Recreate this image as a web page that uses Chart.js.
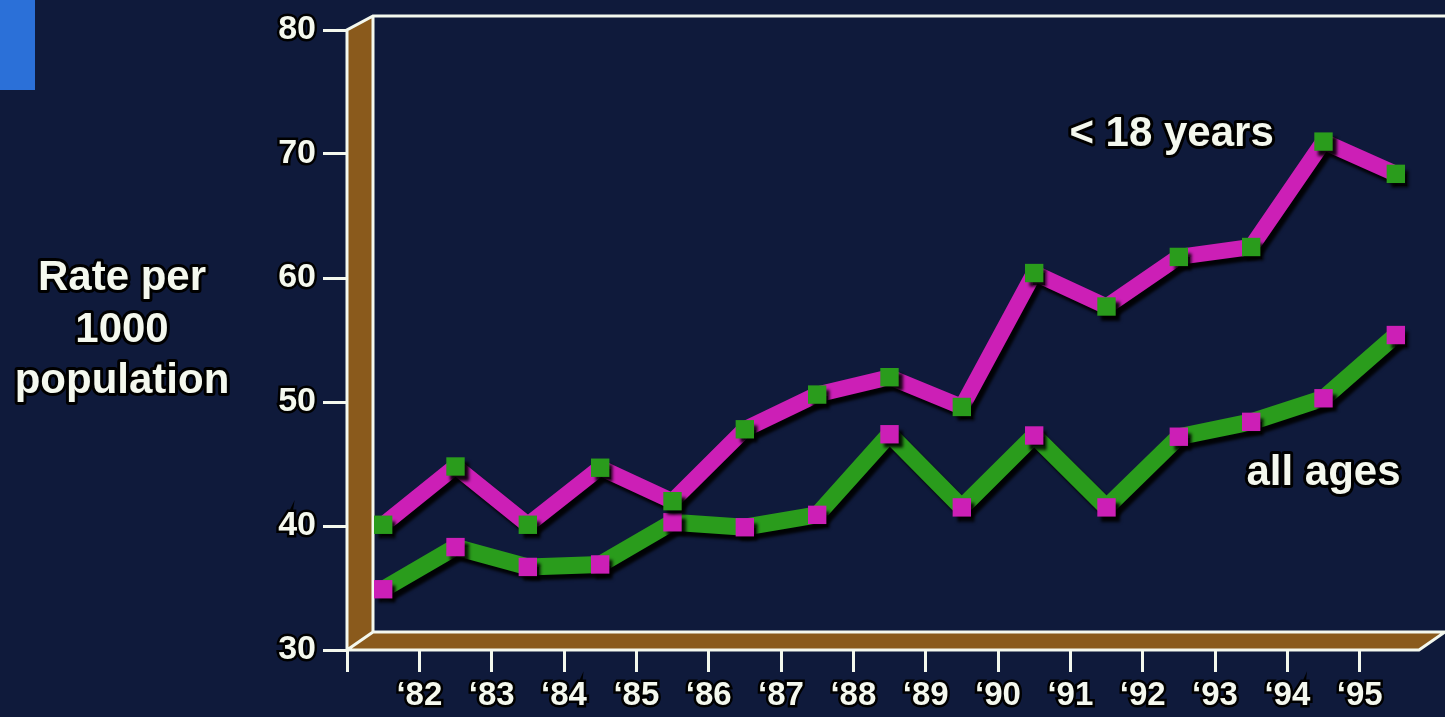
<!DOCTYPE html>
<html>
<head>
<meta charset="utf-8">
<script src="https://cdn.jsdelivr.net/npm/chart.js@4.4.1/dist/chart.umd.min.js"></script>
<style>
  body { margin: 0; background: #0f1a3b; }
  #wrap { position: relative; width: 1445px; height: 717px; }
  #tag { position: absolute; left: 0; top: 0; width: 35px; height: 90px; background: #2b70d8; }
  canvas { position: absolute; left: 0; top: 0; }
</style>
</head>
<body>
<div id="wrap">
  <div id="tag"></div>
  <canvas id="rate-chart"></canvas>
</div>
<script>
// one point per year, ticks mark the year boundaries
const years = ["1981", "1982", "1983", "1984", "1985", "1986", "1987", "1988",
  "1989", "1990", "1991", "1992", "1993", "1994", "1995"]
const tickLabels = ["\u201882", "\u201883", "\u201884", "\u201885", "\u201886", "\u201887", "\u201888",
  "\u201889", "\u201890", "\u201891", "\u201892", "\u201893", "\u201894", "\u201895"]

const under18 = [40.1, 44.8, 40.1, 44.7, 42.0, 47.8, 50.6, 52.0, 49.6, 60.4, 57.7, 61.7, 62.5, 71.0, 68.4]
const allAges = [34.9, 38.3, 36.7, 36.9, 40.3, 39.9, 40.9, 47.4, 41.5, 47.3, 41.5, 47.2, 48.4, 50.3, 55.4]

const yMin = 30
const yMax = 80
const yStep = 10

const magenta = "#cc1fb6"
const green = "#2a9c1c"
const brown = "#8a5a1c"
const white = "#f4f8ee"
const font = '"Liberation Sans", Arial, sans-serif'

function outlinedText(ctx, text, x, y) {
    ctx.lineJoin = "round"
    ctx.lineWidth = 6
    ctx.strokeStyle = "#000"
    ctx.strokeText(text, x, y)
    ctx.fillStyle = white
    ctx.fillText(text, x, y)
}

// 3d-ish wall and floor behind the lines
const framePlugin = {
    id: "frame",
    beforeDatasetsDraw(chart) {
        const ctx = chart.ctx
        const y = chart.scales.y
        const L = chart.chartArea.left
        const T = y.top
        const B = y.bottom
        const W = chart.width
        const dx = 26
        const dyTop = -14
        const dyBot = -18

        ctx.save()
        ctx.fillStyle = brown
        ctx.beginPath()
        ctx.moveTo(L, T)
        ctx.lineTo(L + dx, T + dyTop)
        ctx.lineTo(L + dx, B + dyBot)
        ctx.lineTo(L, B)
        ctx.closePath()
        ctx.fill()

        ctx.beginPath()
        ctx.moveTo(L, B)
        ctx.lineTo(L + dx, B + dyBot)
        ctx.lineTo(W, B + dyBot)
        ctx.lineTo(W - dx, B)
        ctx.closePath()
        ctx.fill()

        ctx.strokeStyle = white
        ctx.lineWidth = 3
        ctx.beginPath()
        ctx.moveTo(L, B)
        ctx.lineTo(L, T)
        ctx.lineTo(L + dx, T + dyTop)
        ctx.lineTo(W, T + dyTop)
        ctx.moveTo(L + dx, T + dyTop)
        ctx.lineTo(L + dx, B + dyBot)
        ctx.lineTo(W, B + dyBot)
        ctx.lineTo(W - dx, B)
        ctx.lineTo(L, B)
        ctx.lineTo(L + dx, B + dyBot)
        ctx.stroke()
        ctx.restore()
    }
}

// drop shadow under each line
const shadowPlugin = {
    id: "lineShadow",
    beforeDatasetDraw(chart) {
        const ctx = chart.ctx
        ctx.save()
        ctx.shadowColor = "rgba(0,0,0,0.9)"
        ctx.shadowOffsetX = 4
        ctx.shadowOffsetY = 5
        ctx.shadowBlur = 3
    },
    afterDatasetDraw(chart) {
        chart.ctx.restore()
    }
}

const textPlugin = {
    id: "texts",
    afterDraw(chart) {
        const ctx = chart.ctx
        const x = chart.scales.x
        const y = chart.scales.y
        ctx.save()
        ctx.textAlign = "center"
        ctx.textBaseline = "alphabetic"
        ctx.font = "bold 42px " + font
        outlinedText(ctx, "Rate per", 122, 290)
        outlinedText(ctx, "1000", 122, 342)
        outlinedText(ctx, "population", 122, 393)

        ctx.textBaseline = "middle"
        outlinedText(ctx, "< 18 years", x.getPixelForValue(10.9), y.getPixelForValue(71.6))
        outlinedText(ctx, "all ages", x.getPixelForValue(13.0), y.getPixelForValue(44.2))
        ctx.restore()
    }
}

new Chart("rate-chart", {
    type: "line",
    data: {
        labels: years,
        datasets: [{
            label: "< 18 years",
            data: under18,
            borderColor: magenta,
            borderWidth: 16,
            borderJoinStyle: "bevel",
            pointStyle: "rect",
            pointRadius: 13,
            pointHoverRadius: 13,
            pointBorderWidth: 0,
            pointBackgroundColor: green,
            tension: 0
        }, {
            label: "all ages",
            data: allAges,
            borderColor: green,
            borderWidth: 17,
            borderJoinStyle: "bevel",
            pointStyle: "rect",
            pointRadius: 13,
            pointHoverRadius: 13,
            pointBorderWidth: 0,
            pointBackgroundColor: magenta,
            tension: 0
        }]
    },
    options: {
        responsive: true,
        maintainAspectRatio: false,
        animation: false,
        layout: { padding: { top: 30, right: 12, left: 0, bottom: 0 } },
        plugins: {
            legend: { display: false },
            tooltip: { enabled: false }
        },
        scales: {
            x: {
                type: "category",
                offset: true,
                display: false
            },
            x2: {
                type: "linear",
                position: "bottom",
                min: 0,
                max: years.length,
                afterFit: (scale) => { scale.height = 67 },
                afterBuildTicks: (scale) => {
                    scale.ticks = years.map((_, i) => ({ value: i }))
                },
                border: { display: false },
                grid: {
                    drawOnChartArea: false,
                    drawTicks: true,
                    tickLength: 22,
                    tickWidth: 3,
                    tickColor: white
                },
                ticks: {
                    stepSize: 1,
                    padding: 4,
                    maxRotation: 0,
                    autoSkip: false,
                    color: white,
                    textStrokeColor: "#000",
                    textStrokeWidth: 5,
                    font: { family: font, size: 33, weight: "bold" },
                    callback: (v) => (v >= 1 && v <= tickLabels.length) ? tickLabels[v - 1] : ""
                }
            },
            y: {
                min: yMin,
                max: yMax,
                afterFit: (scale) => { scale.width = 347 },
                border: { display: false },
                grid: {
                    drawOnChartArea: false,
                    drawTicks: true,
                    tickLength: 24,
                    tickWidth: 3,
                    tickColor: white
                },
                ticks: {
                    stepSize: yStep,
                    padding: 7,
                    color: white,
                    textStrokeColor: "#000",
                    textStrokeWidth: 5,
                    font: { family: font, size: 34, weight: "bold" }
                }
            }
        }
    },
    plugins: [framePlugin, shadowPlugin, textPlugin]
});
</script>
</body>
</html>
